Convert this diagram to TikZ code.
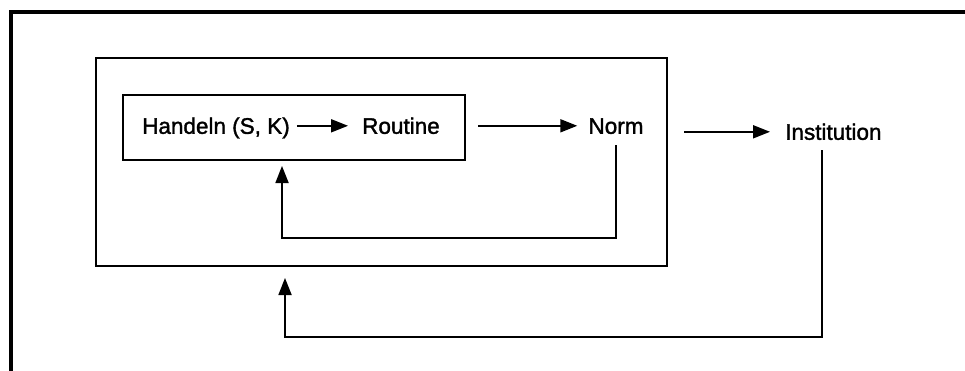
\documentclass[tikz,border=0pt]{standalone}
\usepackage{fontspec}
\setmainfont{Liberation Sans}
\newfontfamily\labelfont{Liberation Sans}[FakeBold=1.6]
\usetikzlibrary{arrows.meta,calc}

\begin{document}
\begin{tikzpicture}[x=1pt,y=-1pt,
    label/.style={inner sep=0pt, text height=16pt, text depth=0pt,
                  font=\labelfont\fontsize{22.5}{26}\selectfont},
    frame/.style={draw, line width=2pt, inner sep=0pt},
    flow/.style={line width=1.8pt, -{Triangle[length=17pt,width=13pt]}},
    loop/.style={line width=1.8pt, line join=miter, -{Triangle[length=17pt,width=13pt]}}]

  \useasboundingbox (0,0) rectangle (965,370);

  % outer frame (top and left edges)
  \draw[line width=4pt, line join=miter] (10.5,372) -- (10.5,11.5) -- (968,11.5);

  % boxes
  \node[frame, minimum width=571pt, minimum height=208pt] (middle) at (381.5,162) {};
  \node[frame, minimum width=342pt, minimum height=65pt] (inner) at (294,127.5) {};

  % labels
  \node[label, anchor=south west] (handeln) at (142,134) {Handeln (S, K)};
  \node[label, anchor=south west] (routine) at (362,134) {Routine};
  \node[label, anchor=south] (norm) at (616,134) {Norm};
  \node[label, anchor=south west] (institution) at (785,140) {Institution};

  % forward arrows
  \draw[flow] ([xshift=7pt]handeln.east) -- ([xshift=-14pt]routine.west);
  \draw[flow] ([xshift=12pt]inner.east |- norm.west) -- ([xshift=-11pt]norm.west);
  \draw[flow] ([xshift=16pt]middle.east |- institution.west) -- ([xshift=-15pt]institution.west);

  % feedback loops
  \coordinate (nb) at (282,238);
  \draw[loop] ($(norm.south)+(0,11)$) |- (nb) -- ($(nb |- inner.south)+(0,5)$);

  \coordinate (ic) at (822,150);
  \coordinate (ib) at (285,337);
  \draw[loop] (ic) |- (ib) -- ($(ib |- middle.south)+(0,11)$);
\end{tikzpicture}
\end{document}
